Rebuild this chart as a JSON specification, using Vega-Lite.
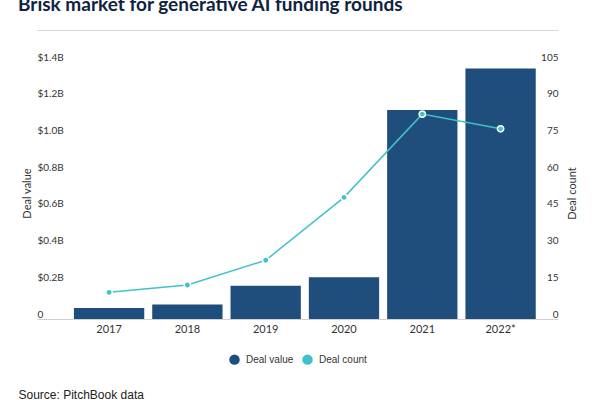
{
  "$schema": "https://vega.github.io/schema/vega-lite/v6.json",
  "width": 521,
  "height": 257,
  "autosize": "none",
  "padding": {"left": 37, "top": 62, "right": 42, "bottom": 81},
  "background": "white",
  "config": {"view": {"stroke": null}, "font": "Lato"},
  "title": {
    "text": "Brisk market for generative AI funding rounds",
    "anchor": "start",
    "frame": "group",
    "dx": -19,
    "dy": 10,
    "font": "Lato",
    "fontSize": 19,
    "fontWeight": "bold",
    "color": "#0e2341",
    "offset": 10,
    "baseline": "alphabetic"
  },
  "data": {
    "values": [
      {"year": "2017", "value": 0.06, "count": 10.9},
      {"year": "2018", "value": 0.079, "count": 13.9},
      {"year": "2019", "value": 0.181, "count": 24},
      {"year": "2020", "value": 0.227, "count": 49.7},
      {"year": "2021", "value": 1.138, "count": 83.7},
      {"year": "2022*", "value": 1.365, "count": 77.7}
    ]
  },
  "layer": [
    {
      "mark": {"type": "bar", "color": "#1f4e7c"},
      "encoding": {
        "x": {
          "field": "year",
          "type": "ordinal",
          "sort": null,
          "scale": {"type": "band", "paddingInner": 0.102, "paddingOuter": 0.378, "align": 0.624},
          "axis": {
            "orient": "bottom",
            "labelAngle": 0,
            "labelPadding": 4,
            "labelFontSize": 11,
            "labelFont": "Lato",
            "labelColor": "#333333",
            "ticks": false,
            "domainColor": "#d0d0d0",
            "domainWidth": 1,
            "title": "Source: PitchBook data",
            "titleX": -19,
            "titleY": 75,
            "titleAlign": "left",
            "titleAnchor": "start",
            "titleBaseline": "middle",
            "titleFont": "Liberation Sans",
            "titleFontSize": 12,
            "titleFontWeight": "normal",
            "titleColor": "#222222"
          }
        },
        "y": {
          "field": "value",
          "type": "quantitative",
          "scale": {"domain": [0, 1.4], "nice": false},
          "axis": {
            "orient": "left",
            "values": [0, 0.2, 0.4, 0.6, 0.8, 1.0, 1.2, 1.4],
            "labelExpr": "datum.value == 0 ? '0' : '$' + format(datum.value, '.1f') + 'B'",
            "labelAlign": "left",
            "labelPadding": 0,
            "ticks": false,
            "tickSize": 0,
            "domain": false,
            "grid": false,
            "labelBaseline": "bottom",
            "labelFontSize": 10,
            "labelFont": "Lato",
            "labelColor": "#333333",
            "title": "Deal value",
            "titleX": -10,
            "titleY": 131,
            "titleAngle": -90,
            "titleAlign": "center",
            "titleBaseline": "middle",
            "titleFont": "Lato",
            "titleFontSize": 11,
            "titleFontWeight": "normal",
            "titleColor": "#333333"
          }
        },
        "color": {
          "datum": "Deal value",
          "type": "nominal",
          "scale": {"domain": ["Deal value", "Deal count"], "range": ["#1f4e7c", "#3fc3c9"]},
          "legend": {
            "orient": "none",
            "legendX": 192,
            "legendY": 292,
            "direction": "horizontal",
            "title": null,
            "symbolType": "circle",
            "symbolSize": 110,
            "symbolStrokeWidth": 0,
            "labelFont": "Liberation Sans",
            "labelFontSize": 10,
            "labelColor": "#333333",
            "labelOffset": 6,
            "columnPadding": 8
          }
        }
      }
    },
    {
      "mark": {
        "type": "line",
        "color": "#3fc3c9",
        "strokeWidth": 1.5,
        "point": {"filled": true, "fill": "#3fc3c9", "stroke": "white", "strokeWidth": 1.5, "size": 40, "opacity": 1}
      },
      "encoding": {
        "x": {
          "field": "year",
          "type": "ordinal",
          "sort": null,
          "axis": {"orient": "top", "offset": 32, "labels": false, "ticks": false, "domain": true, "domainColor": "#d8d8d0", "domainWidth": 1, "title": null}
        },
        "y": {
          "field": "count",
          "type": "quantitative",
          "scale": {"domain": [0, 105], "nice": false},
          "axis": {
            "orient": "right",
            "values": [0, 15, 30, 45, 60, 75, 90, 105],
            "labelAlign": "right",
            "labelPadding": 0,
            "ticks": false,
            "tickSize": 0,
            "domain": false,
            "grid": false,
            "labelBaseline": "bottom",
            "labelFontSize": 10,
            "labelFont": "Lato",
            "labelColor": "#333333",
            "title": "Deal count",
            "titleX": 14,
            "titleY": 131,
            "titleAngle": -90,
            "titleAlign": "center",
            "titleBaseline": "middle",
            "titleFont": "Lato",
            "titleFontSize": 11,
            "titleFontWeight": "normal",
            "titleColor": "#333333"
          }
        },
        "color": {"datum": "Deal count", "type": "nominal"}
      }
    }
  ],
  "resolve": {"scale": {"y": "independent"}, "axis": {"x": "independent"}}
}
